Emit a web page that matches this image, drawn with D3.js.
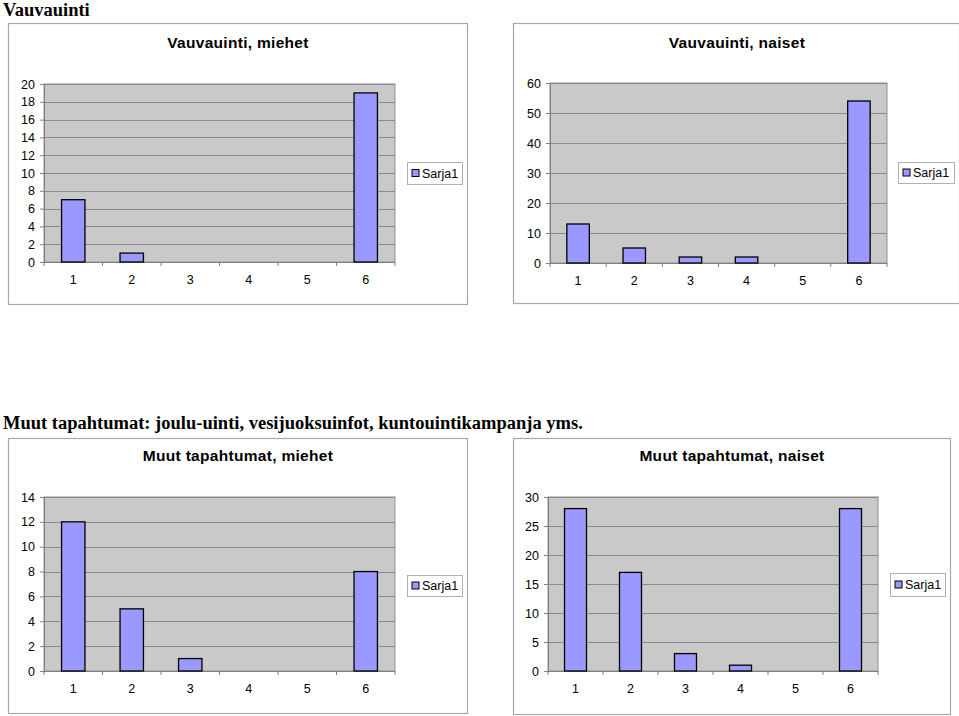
<!DOCTYPE html>
<html>
<head>
<meta charset="utf-8">
<script src="https://cdn.jsdelivr.net/npm/d3@7"></script>
<style>
  body { margin: 0; background: #fff; }
  svg text { font-family: "Liberation Sans", Arial, sans-serif; }
  .heading { font-family: "Liberation Serif", "Times New Roman", serif !important; font-weight: bold; font-size: 18.5px; }
</style>
</head>
<body>
<svg id="page" width="959" height="716"></svg>
<script>
// categories & values
const categories = ["1", "2", "3", "4", "5", "6"];
const vauvaMiehet = [7, 1, 0, 0, 0, 19];
const vauvaNaiset = [13, 5, 2, 2, 0, 54];
const muutMiehet = [12, 5, 1, 0, 0, 8];
const muutNaiset = [28, 17, 3, 1, 0, 28];
const seriesName = "Sarja1";

const ticksVauvaMiehet = [0, 2, 4, 6, 8, 10, 12, 14, 16, 18, 20];
const ticksVauvaNaiset = [0, 10, 20, 30, 40, 50, 60];
const ticksMuutMiehet = [0, 2, 4, 6, 8, 10, 12, 14];
const ticksMuutNaiset = [0, 5, 10, 15, 20, 25, 30];

const svg = d3.select('#page');

// page headings
svg.append('text').attr('class', 'heading')
    .attr('x', 3).attr('y', 16)
    .text("Vauvauinti");
svg.append('text').attr('class', 'heading')
    .attr('x', 3).attr('y', 429)
    .text("Muut tapahtumat: joulu-uinti, vesijuoksuinfot, kuntouintikampanja yms.");

function drawChart(opt) {
    const g = svg.append('g');

    // outer chart box
    g.append('rect')
        .attr('x', opt.box[0] + 0.5).attr('y', opt.box[1] + 0.5)
        .attr('width', opt.box[2]).attr('height', opt.box[3])
        .attr('fill', '#fff').attr('stroke', '#a8a8a8').attr('stroke-width', 1.2);

    g.append('text')
        .attr('x', opt.titleX).attr('y', opt.titleY)
        .attr('text-anchor', 'middle')
        .attr('font-size', 15.5).attr('font-weight', 'bold')
        .attr('letter-spacing', 0.3)
        .text(opt.title);

    const p = opt.plot; // [x0, y0, x1, y1]
    const x = d3.scaleBand().domain(categories).range([p[0], p[2]]).paddingInner(0).paddingOuter(0);
    const y = d3.scaleLinear().domain([0, d3.max(opt.ticks)]).range([p[3], p[1]]);

    g.append('rect')
        .attr('x', p[0]).attr('y', p[1])
        .attr('width', p[2] - p[0]).attr('height', p[3] - p[1])
        .attr('fill', '#c9c9c9').attr('stroke', '#909090').attr('stroke-width', 1);

    // gridlines
    g.append('g').selectAll('line').data(opt.ticks.slice(1))
        .join('line')
        .attr('x1', p[0]).attr('x2', p[2])
        .attr('y1', d => Math.round(y(d)) + 0.5).attr('y2', d => Math.round(y(d)) + 0.5)
        .attr('stroke', '#8a8a8a').attr('stroke-width', 1);

    // y axis
    const yAxis = g.append('g')
        .attr('transform', 'translate(' + p[0] + ',0)')
        .call(d3.axisLeft(y).tickValues(opt.ticks).tickSize(4).tickPadding(5).tickFormat(d3.format('d')));
    yAxis.selectAll('text').attr('font-size', 12.5).attr('fill', '#000').attr('font-family', '"Liberation Sans", Arial, sans-serif');
    yAxis.selectAll('line, path').attr('stroke', '#808080');
    yAxis.select('.domain').attr('d', 'M0.5,' + p[1] + 'V' + p[3]);

    // x axis
    const xAxis = g.append('g')
        .attr('transform', 'translate(0,' + p[3] + ')')
        .call(d3.axisBottom(x).tickSize(0).tickPadding(13));
    xAxis.selectAll('text').attr('font-size', 12.5).attr('fill', '#000').attr('font-family', '"Liberation Sans", Arial, sans-serif');
    xAxis.select('.domain').attr('stroke', '#808080').attr('d', 'M' + p[0] + ',0.5H' + p[2]);
    // tick marks between categories
    const edges = categories.map(c => x(c)).concat([p[2]]);
    xAxis.selectAll('line.sep').data(edges).join('line').attr('class', 'sep')
        .attr('x1', d => d).attr('x2', d => d)
        .attr('y1', 0).attr('y2', 4)
        .attr('stroke', '#808080');

    // bars
    const bw = x.bandwidth() / 2.5;
    g.append('g').selectAll('rect').data(opt.values)
        .join('rect')
        .attr('x', (d, i) => x(categories[i]) + (x.bandwidth() - bw) / 2)
        .attr('y', d => y(d))
        .attr('width', bw)
        .attr('height', d => y(0) - y(d))
        .attr('fill', '#9999ff').attr('stroke', '#000').attr('stroke-width', 1.3);

    // legend
    const L = opt.legend; // [x, y, w, h]
    const lg = g.append('g');
    lg.append('rect')
        .attr('x', L[0] + 0.5).attr('y', L[1] + 0.5).attr('width', L[2]).attr('height', L[3])
        .attr('fill', '#fff').attr('stroke', '#b0b0b0');
    lg.append('rect')
        .attr('x', L[0] + 5).attr('y', L[1] + L[3] / 2 - 3.5).attr('width', 7).attr('height', 7)
        .attr('fill', '#9999ff').attr('stroke', '#000').attr('stroke-width', 1);
    lg.append('text')
        .attr('x', L[0] + 15).attr('y', L[1] + L[3] / 2 + 4.5)
        .attr('font-size', 12.5)
        .text(seriesName);
}

drawChart({
    box: [8, 23, 459, 281], title: "Vauvauinti, miehet", titleX: 238, titleY: 48,
    plot: [44, 84, 395, 262], ticks: ticksVauvaMiehet, values: vauvaMiehet,
    legend: [407, 162, 55, 22]
});
drawChart({
    box: [513, 23, 446, 280], title: "Vauvauinti, naiset", titleX: 737, titleY: 48,
    plot: [550, 83, 887, 263], ticks: ticksVauvaNaiset, values: vauvaNaiset,
    legend: [898, 162, 56, 21]
});
drawChart({
    box: [8, 438, 459, 275], title: "Muut tapahtumat, miehet", titleX: 238, titleY: 461,
    plot: [44, 497, 395, 671], ticks: ticksMuutMiehet, values: muutMiehet,
    legend: [407, 575, 55, 21]
});
drawChart({
    box: [513, 438, 437, 276], title: "Muut tapahtumat, naiset", titleX: 732, titleY: 461,
    plot: [548, 497, 878, 671], ticks: ticksMuutNaiset, values: muutNaiset,
    legend: [890, 573, 55, 23]
});
</script>
</body>
</html>
